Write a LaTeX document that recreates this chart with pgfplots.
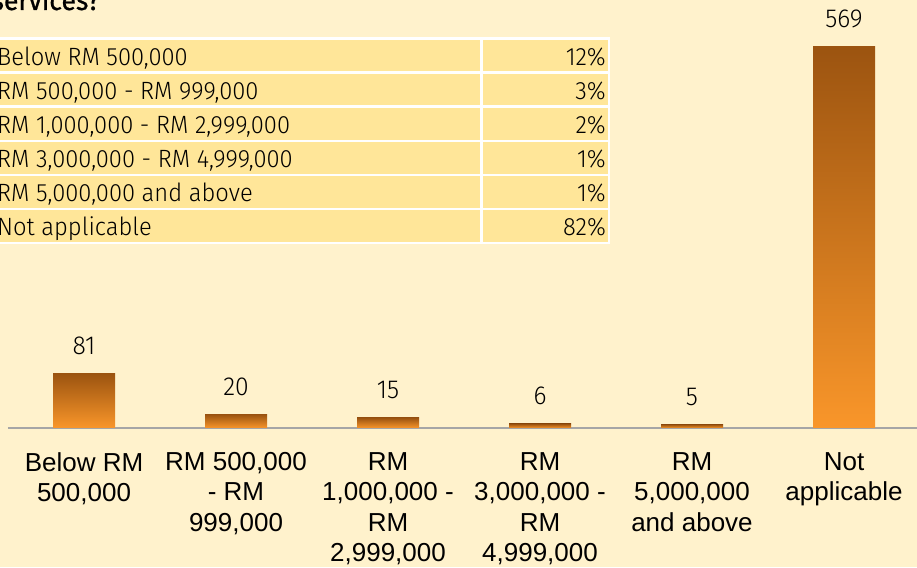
\documentclass[border=0pt]{standalone}
\usepackage{pgfplots}
\pgfplotsset{compat=1.18}
\usepackage{fontspec}
\setmainfont{Liberation Sans}
\newfontfamily\lightfont{Fira Sans Light}[FakeStretch=0.95]
\newfontfamily\titlefont{Fira Sans}[FakeStretch=0.95, FakeBold=0.8]
\definecolor{bg}{HTML}{FFF2CC}
\definecolor{cell}{HTML}{FFE699}
\definecolor{bartop}{HTML}{9C5410}
\definecolor{barbot}{HTML}{F9962A}
\definecolor{axisgray}{HTML}{A6A6A6}
\pgfplotsset{mybar/.style={ybar, bar width=62pt, draw=none, top color=bartop, bottom color=barbot}}
\begin{document}
\begin{tikzpicture}[x=1pt,y=1pt]
\useasboundingbox (0,0) rectangle (917,567);
\clip (0,0) rectangle (917,567);
\fill[bg] (0,0) rectangle (917,567);
% title fragment
\node[anchor=base east, inner sep=0pt, font=\titlefont\fontsize{28}{30}\selectfont] at (100,557) {services?};
% table
\fill[white] (-12,567-37) rectangle (610,567-244.5);
\foreach \r/\lab/\pct [count=\i from 0] in {
  0/Below RM 500{,}000/12\%,
  1/RM 500{,}000 - RM 999{,}000/3\%,
  2/RM 1{,}000{,}000 - RM 2{,}999{,}000/2\%,
  3/RM 3{,}000{,}000 - RM 4{,}999{,}000/1\%,
  4/RM 5{,}000{,}000 and above/1\%,
  5/Not applicable/82\%}{
  \pgfmathsetmacro{\yt}{567-38.5-34.1*\r}
  \pgfmathsetmacro{\yb}{\yt-34.1}
  \fill[cell] (-12,\yt-1.2) rectangle (480,\yb+1.2);
  \fill[cell] (482.5,\yt-1.2) rectangle (608,\yb+1.2);
  \node[anchor=base west, inner sep=0pt, font=\lightfont\fontsize{25}{27}\selectfont] at (-3,\yt-27) {\lab};
  \node[anchor=base east, inner sep=0pt, font=\lightfont\fontsize{25}{27}\selectfont] at (606,\yt-27) {\pct};
}
\begin{axis}[
  anchor=origin, at={(84pt,139pt)},
  x=152pt, y=0.6696pt,
  xmin=-0.5, xmax=5.5, ymin=0, ymax=600,
  enlargelimits=false, clip=false,
  axis x line=bottom, axis y line=none,
  axis line style={draw=axisgray, line width=1.6pt, -},
  xtick={0,1,2,3,4,5}, major tick length=0pt,
  xticklabels={Below RM\\500{,}000, RM 500{,}000\\- RM\\999{,}000, RM\\1{,}000{,}000 -\\RM\\2{,}999{,}000, RM\\3{,}000{,}000 -\\RM\\4{,}999{,}000, RM\\5{,}000{,}000\\and above, Not\\applicable},
  xticklabel style={align=center, anchor=north, inner sep=0pt, yshift=-24pt, font=\fontsize{26}{30.5}\selectfont},
  ytick=\empty,
  /pgf/number format/assume math mode=true,
  nodes near coords,
  every node near coord/.append style={anchor=base, inner sep=0pt, yshift=19pt, font=\lightfont\fontsize{26}{28}\selectfont, text=black},
]
\addplot[mybar] coordinates {(0,81)};
\addplot[mybar] coordinates {(1,20)};
\addplot[mybar] coordinates {(2,15)};
\addplot[mybar] coordinates {(3,6)};
\addplot[mybar] coordinates {(4,5)};
\addplot[mybar] coordinates {(5,569)};
\end{axis}
\end{tikzpicture}
\end{document}
